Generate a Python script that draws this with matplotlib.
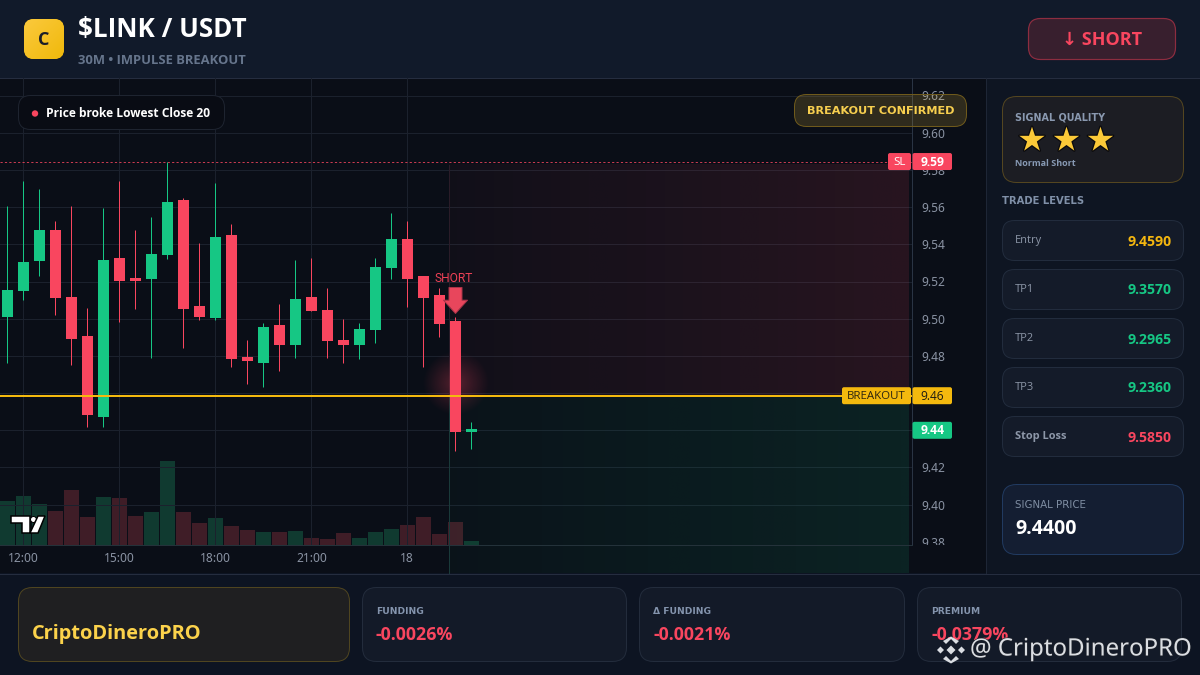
import numpy as np
import matplotlib
matplotlib.use("Agg")
import matplotlib.pyplot as plt
from matplotlib.patches import FancyBboxPatch, Polygon, Circle, Rectangle
from matplotlib.path import Path
from matplotlib.colors import LinearSegmentedColormap
import matplotlib.patheffects as pe

# ---- data ----
highs  = [9.5606,9.5740,9.5697,9.5525,9.5606,9.5058,9.5595,9.5740,9.5477,9.5547,9.5844,9.5649,9.5407,9.5730,9.5509,
          9.4886,9.4977,9.5079,9.5316,9.5326,9.5165,9.4998,9.4977,9.5326,9.5568,9.5525,9.5230,9.5165,9.5009,9.4445]
lows   = [9.4764,9.5101,9.5230,9.5020,9.4751,9.4418,9.4418,9.4982,9.5052,9.4789,9.5321,9.4842,9.4993,9.4993,9.4740,
          9.4649,9.4633,9.4719,9.4789,9.5041,9.4789,9.4762,9.4783,9.4869,9.5213,9.5063,9.4740,9.4902,9.4289,9.4299]
opens  = [9.5009,9.5149,9.5310,9.5477,9.5117,9.4907,9.4472,9.5326,9.5219,9.5213,9.5342,9.5638,9.5068,9.5004,9.5450,
          9.4794,9.4762,9.4966,9.4859,9.5117,9.5047,9.4886,9.4859,9.4939,9.5273,9.5429,9.5230,9.5127,9.4988,9.4391]
closes = [9.5154,9.5305,9.5477,9.5111,9.4891,9.4482,9.5316,9.5203,9.5203,9.5348,9.5627,9.5052,9.5009,9.5439,9.4783,
          9.4773,9.4955,9.4859,9.5106,9.5041,9.4880,9.4859,9.4945,9.5278,9.5429,9.5213,9.5111,9.4971,9.4391,9.4407]
volumes = [44,49,41,34,55,28,48,47,29,33,84,33,22,27,19,15,13,13,14,7,6,12,7,13,16,20,28,11,23,4]
price_ticks = [9.62,9.60,9.58,9.56,9.54,9.52,9.50,9.48,9.46,9.44,9.42,9.40,9.38]
time_idx = [1,7,13,19,25]
time_labels = ["12:00","15:00","18:00","21:00","18"]
stop_line = 9.5845
zone_top = 9.5828
breakout = 9.4586
last_price = 9.4400
signal_idx = 28
arrow_price = 9.5100
glow_price = 9.4653
levels = [("Entry","9.4590","#F5B70F"),("TP1","9.3570","#16C784"),("TP2","9.2965","#16C784"),
          ("TP3","9.2360","#16C784"),("Stop Loss","9.5850","#F9465F")]
stats = [("FUNDING","-0.0026%"),("Δ FUNDING","-0.0021%"),("PREMIUM","-0.0379%")]

RED, GREEN, GOLD = "#F9465F", "#16C784", "#F4B90E"
VRED, VGREEN = "#3F1D27", "#103A30"
GRID = "#1B212D"
TICK = "#8A93A3"
F = ["Open Sans", "DejaVu Sans"]
px = 0.72  # px -> pt at dpi 100

fig = plt.figure(figsize=(12, 6.75), dpi=100, facecolor="#0A0E17")
W, H = 1200, 675

def px_axes(z):
    a = fig.add_axes([0, 0, 1, 1], zorder=z)
    a.set_xlim(0, W); a.set_ylim(H, 0); a.axis("off"); a.patch.set_alpha(0)
    return a

def rbox(a, x0, y0, x1, y1, r, fc, ec, lw=1.0, alpha=None, z=2):
    p = FancyBboxPatch((x0, y0), x1-x0, y1-y0, boxstyle=f"round,pad=0,rounding_size={r}",
                       fc=fc, ec=ec, lw=lw*px, alpha=alpha, zorder=z)
    a.add_patch(p)
    return p

def t(a, x, y, s, size, color, weight="normal", ha="left", family=F, **kw):
    return a.text(x, y+1.5, s, fontsize=size*px, color=color, fontweight=weight, ha=ha, va="center",
                  family=family, **kw)

# ---- chrome under the chart ----
bg = px_axes(0)
bg.add_patch(Rectangle((0, 0), W, 78, fc="#111A2A", ec="none"))
bg.add_patch(Rectangle((986, 78), 214, 495, fc="#0E1522", ec="none"))
bg.add_patch(Rectangle((0, 573), W, 102, fc="#0D1422", ec="none"))
bg.plot([0, W], [77.5, 77.5], color="#252D3F", lw=1*px)
bg.plot([0, W], [573.5, 573.5], color="#252D3F", lw=1*px)
bg.plot([985.5, 985.5], [78, 573], color="#1E2636", lw=1*px)

# ---- chart axes (price scale: 9.62 at y=95.5, 1860 px per unit) ----
top_px, bot_px, right_px = 78, 544.5, 912
pos = [0, 1-bot_px/H, right_px/W, (bot_px-top_px)/H]
def py(p):
    return 95.5 + (9.62-p)*1860
def price_at(y):
    return 9.62-(y-95.5)/1860
ylim = (price_at(bot_px), price_at(top_px))
xlim = (-7.33/16, (right_px-7.33)/16)

axv = fig.add_axes(pos, zorder=1)
axv.patch.set_alpha(0); axv.axis("off")
axv.set_xlim(*xlim); axv.set_ylim(0, bot_px-top_px)
vcol = [VGREEN if c >= o else VRED for o, c in zip(opens, closes)]
axv.bar(range(len(volumes)), volumes, width=0.94, color=vcol, linewidth=0)

ax = fig.add_axes(pos, zorder=2)
ax.patch.set_alpha(0)
ax.set_yticks(price_ticks); ax.set_yticklabels([f"{v:.2f}" for v in price_ticks], family="Noto Sans", fontsize=12*px, color=TICK)
ax.set_xticks(time_idx); ax.set_xticklabels(time_labels, family="Noto Sans", fontsize=12*px, color=TICK)
ax.yaxis.tick_right()
ax.tick_params(axis="y", length=0, pad=9.5*px)
ax.tick_params(axis="x", length=0, pad=7*px)
for s in ("top", "left"):
    ax.spines[s].set_visible(False)
ax.spines["right"].set_color("#2A3444"); ax.spines["right"].set_linewidth(1*px)
ax.spines["bottom"].set_color("#24323A"); ax.spines["bottom"].set_linewidth(1*px)
ax.grid(True, color=GRID, lw=1*px, zorder=0.5)
ax.set_axisbelow(True)
ax.yaxis.get_gridlines()[-1].set_visible(False)

# target / risk zones with a left-to-right fade
zone_x0 = signal_idx - 0.38
zone_x1 = xlim[1] - 0.2
def zone(rgb, a0, a1, y0, y1):
    g = np.zeros((2, 256, 4))
    g[..., :3] = np.array(rgb)/255
    g[..., 3] = np.linspace(a0, a1, 256)
    ax.imshow(g, extent=(zone_x0, zone_x1, y0, y1), aspect="auto", origin="lower",
              zorder=1, clip_on=False, interpolation="bilinear")
zone((249, 70, 95), 0.03, 0.125, breakout, zone_top)
zone((22, 199, 132), 0.03, 0.115, price_at(573), breakout)
ax.plot([zone_x0, zone_x0], [price_at(573), breakout], color="#1A3A3A", lw=1*px, zorder=1.2, clip_on=False)
ax.plot([zone_x0, zone_x0], [breakout, zone_top], color="#2A1C28", lw=1*px, zorder=1.2)

# glow behind the breakout candle
yy, xx = np.mgrid[-1:1:200j, -1:1:200j]
rr = np.clip(1-np.hypot(xx, yy), 0, 1)
gl = np.zeros((200, 200, 4)); gl[..., :3] = np.array((249, 70, 95))/255; gl[..., 3] = 0.32*rr**1.1
ax.imshow(gl, extent=(signal_idx-2.1, signal_idx+2.1, glow_price-0.0177, glow_price+0.0177),
          aspect="auto", origin="lower", zorder=1.5)

# candles
n = len(opens)
idx = np.arange(n)
cols = [GREEN if c >= o else RED for o, c in zip(opens, closes)]
ax.vlines(idx, lows, highs, colors=cols, lw=1*px, zorder=3)
ax.bar(idx, np.abs(np.array(closes)-np.array(opens)), bottom=np.minimum(opens, closes),
       width=11/16, color=cols, linewidth=0, zorder=3.1)

ax.axhline(stop_line, color=RED, lw=1*px, ls=(0, (2.2, 2.2)), alpha=0.8, zorder=2)
ax.axhline(breakout, color=GOLD, lw=2*px, zorder=3.5)

# SHORT arrow as a custom marker
arrow = Path([(-6.5, 13), (6.5, 13), (6.5, 0.3), (12, 0.3), (0, -13), (-12, 0.3), (-6.5, 0.3), (-6.5, 13)], closed=True)
ax.plot([signal_idx], [arrow_price], marker=arrow, ms=26*px, mfc="#E8465C", mec="#A83348", mew=1*px, ls="none", zorder=4)
ax.annotate("SHORT", (signal_idx, arrow_price), xytext=(-1.5*px, 22*px), textcoords="offset points",
            ha="center", va="center", color="#EE4156", fontsize=12*px, family="Roboto", zorder=4)

ax.set_xlim(*xlim); ax.set_ylim(*ylim)

# ---- chrome on top ----
ui = px_axes(3)
ui.add_patch(Rectangle((913, 544.5), 72, 28, fc="#0A0E17", ec="none", zorder=1))

# header
logo = rbox(ui, 24, 19, 64, 59, 10, GOLD, "none")
g = np.linspace(0, 1, 64)[None, :] + np.linspace(0, 1, 64)[:, None]
im = ui.imshow(g, extent=(24, 64, 59, 19), cmap=LinearSegmentedColormap.from_list("l", ["#FBC93D", "#F0B90B"]),
               aspect="auto", zorder=2.1)
im.set_clip_path(logo)
ui.set_xlim(0, W); ui.set_ylim(H, 0)
t(ui, 44, 38.5, "C", 18, "#1A1D29", "bold", ha="center", zorder=3)
t(ui, 78, 28.5, "$LINK / USDT", 26, "#FFFFFF", "bold")
t(ui, 78, 58.5, "30M • IMPULSE BREAKOUT", 13, "#66758C", "bold")
rbox(ui, 1028.5, 18.5, 1175.5, 59.5, 12, "#381F2E", "#8D2D40", 1.2)
t(ui, 1102, 38.5, "↓ SHORT", 18, RED, "bold", ha="center", zorder=3)

# chart pills
rbox(ui, 18.5, 95.5, 224.5, 129.5, 12, "#090C14", "#1E2430")
ui.add_patch(Circle((35, 113.5), 3.2, fc=RED, ec="none", zorder=3))
t(ui, 46, 112, "Price broke Lowest Close 20", 12, "#FFFFFF", "bold", zorder=3)
rbox(ui, 794.5, 94.5, 966.5, 126.5, 12, (0.96, 0.77, 0.26, 0.16), "#6F5A1C", 1.0)
t(ui, 880.5, 110, "BREAKOUT CONFIRMED", 11.2, "#F7CF4F", "bold", ha="center", family="DejaVu Sans", zorder=3)

# price tags
def tag(x0, x1, y, label, fc, fg, bold=False, size=12):
    rbox(ui, x0, y-8.5, x1, y+8.5, 2, fc, "none", z=2.5)
    t(ui, (x0+x1)/2, y-1, label, size, fg, "bold" if bold else "normal", ha="center", zorder=3)
tag(888, 911, py(stop_line), "SL", RED, "#FFFFFF", size=11.5)
tag(912.5, 952, py(stop_line), f"{9.59:.2f}", RED, "#FFFFFF", True)
tag(842, 911, py(breakout), "BREAKOUT", GOLD, "#2B2410", size=11.5)
tag(912.5, 952, py(breakout), f"{9.46:.2f}", GOLD, "#1B1A12")
tag(912.5, 952, py(last_price), f"{last_price:.2f}", GREEN, "#FFFFFF", True)

# TradingView mark
ui.add_patch(Polygon([(11, 516), (30, 516), (30, 533), (22, 533), (22, 523), (11, 523)], fc="#FFFFFF", ec="#000000", lw=1.5*px, zorder=3))
ui.add_patch(Circle((33.5, 519.5), 3, fc="#FFFFFF", ec="#000000", lw=1*px, zorder=3))
ui.add_patch(Polygon([(38, 516), (45, 516), (38, 533), (30, 533)], fc="#FFFFFF", ec="#000000", lw=1.5*px, zorder=3))

# side panel
rbox(ui, 1002.5, 96.5, 1183.5, 182.5, 14, "#1C1D23", "#544620")
t(ui, 1015, 115.5, "SIGNAL QUALITY", 9.7, "#8A99B0", "bold", family="DejaVu Sans")
for sx in (1032, 1066.5, 1100.5):
    ui.text(sx, 141, "★", fontsize=33*px, color="#FBC938", ha="center", va="center", family="DejaVu Sans",
            path_effects=[pe.Stroke(linewidth=2.5*px, foreground="#0A0A0E"), pe.Normal()], zorder=3)
t(ui, 1015, 162.5, "Normal Short", 9, "#8799B3", "bold")
t(ui, 1002.5, 199.5, "TRADE LEVELS", 10, "#8090A8", "bold", family="DejaVu Sans")
for i, (lab, val, col) in enumerate(levels):
    y0 = 220.5 + 49*i
    rbox(ui, 1002.5, y0, 1183.5, y0+40, 12, "#141B29", "#222C3D")
    t(ui, 1015, y0+18.5, lab, 11, "#8D97A8", "bold" if lab == "Stop Loss" else "normal", zorder=3)
    t(ui, 1171.5, y0+19.5, val, 14, col, "bold", ha="right", zorder=3)
rbox(ui, 1002.5, 484.5, 1183.5, 554.5, 14, "#141E32", "#213A60")
t(ui, 1015, 504, "SIGNAL PRICE", 10.2, "#7F8EA3", family="DejaVu Sans")
t(ui, 1015, 528, "9.4400", 19.5, "#FFFFFF", "bold")

# footer
rbox(ui, 18.5, 587.5, 349.5, 661.5, 14, "#1F1F21", "#4F4520")
t(ui, 32, 632, "CriptoDineroPRO", 20, "#FBD24B", "bold", zorder=3)
for (lab, val), x0, x1 in zip(stats, (362.5, 639.5, 917.5), (626.5, 904.5, 1181.5)):
    rbox(ui, x0, 587.5, x1, 661.5, 14, "#131A28", "#232C3C")
    t(ui, x0+13.5, 610, lab, 9.2, "#8494AD", "bold", family="DejaVu Sans", zorder=3)
    t(ui, x0+13.5, 633, val, 17.8, RED, "bold", zorder=3)

# watermark
wm = "#DADDE2"
shadow = [pe.Stroke(linewidth=1.2*px, foreground="#20242C"), pe.Normal()]
cx, cy = 951, 650
shapes = [[(cx-5, cy-6), (cx, cy-11), (cx+5, cy-6), (cx+8, cy-9), (cx, cy-13.5), (cx-8, cy-9)],
          [(cx-5, cy+6), (cx, cy+11), (cx+5, cy+6), (cx+8, cy+9), (cx, cy+13.5), (cx-8, cy+9)],
          [(cx-4.5, cy), (cx, cy-4.5), (cx+4.5, cy), (cx, cy+4.5)],
          [(cx-14, cy), (cx-10.5, cy-3.5), (cx-7, cy), (cx-10.5, cy+3.5)],
          [(cx+14, cy), (cx+10.5, cy-3.5), (cx+7, cy), (cx+10.5, cy+3.5)]]
for s in shapes:
    ui.add_patch(Polygon(s, fc=wm, ec="none", zorder=5))
t(ui, 970, 648, "@ CriptoDineroPRO", 24, wm, family="Noto Sans", zorder=5, path_effects=shadow)

fig.savefig("out.png", dpi=100, facecolor=fig.get_facecolor())
